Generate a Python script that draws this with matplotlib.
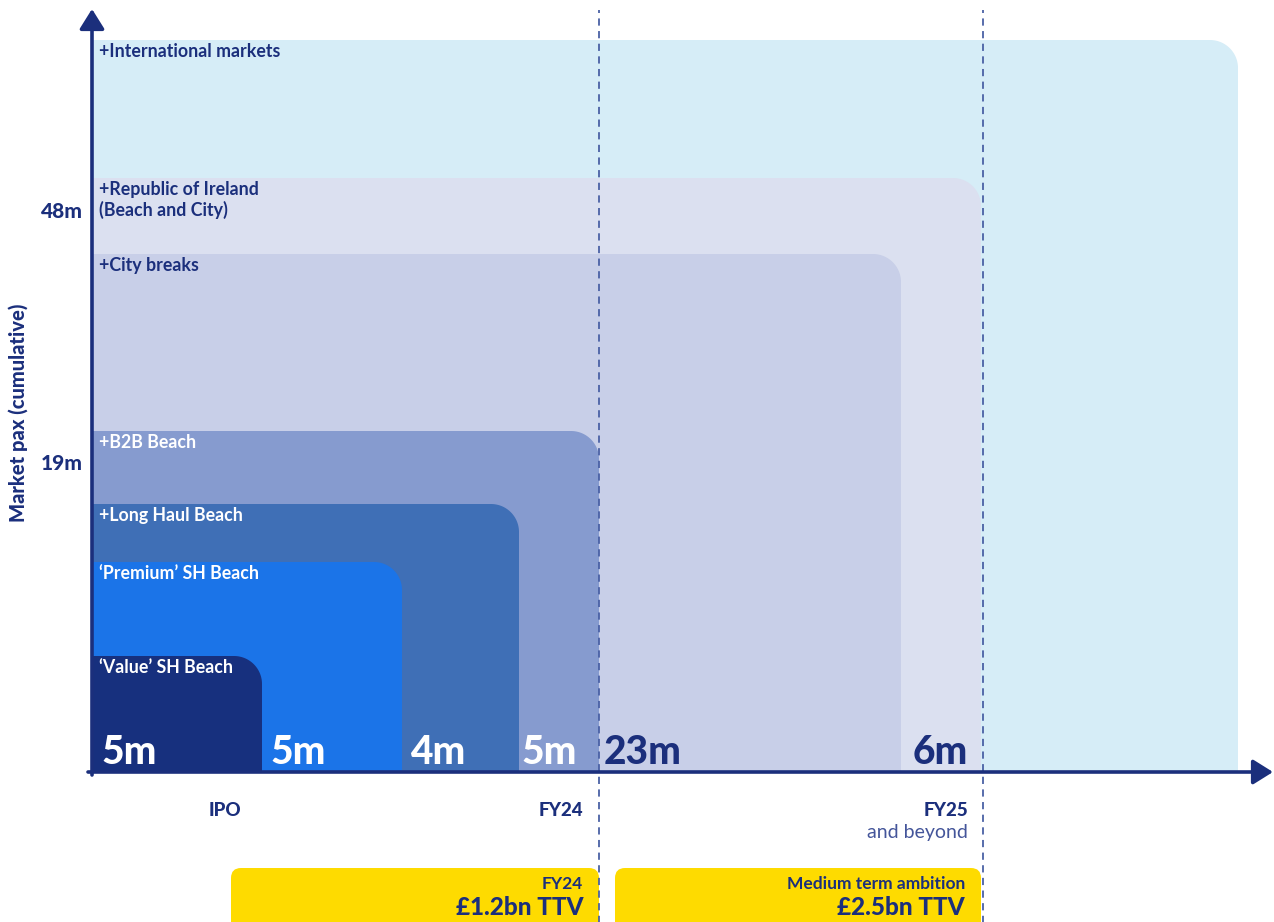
import numpy as np
import matplotlib
matplotlib.use('Agg')
import matplotlib.pyplot as plt
from matplotlib.patches import FancyBboxPatch

plt.rcParams['font.family'] = ['Lato', 'DejaVu Sans']

# market segments, smallest first
segments = ["\u2018Value\u2019 SH Beach", "\u2018Premium\u2019 SH Beach", "+Long Haul Beach",
            "+B2B Beach", "+City breaks", "+Republic of Ireland\n(Beach and City)",
            "+International markets"]
seg_values = ["5m", "5m", "4m", "5m", "23m", "6m"]
# extent of each nested block (chart units)
box_right = [170, 310, 427, 507, 809, 889, 1146]
box_top = [116, 210, 268, 341, 518, 594, 732]
box_colors = ["#17307e", "#1b74e8", "#3f6fb6", "#869bcf", "#c8cfe8", "#dbe0f0", "#d6edf7"]
light_text = [True, True, True, True, False, False, False]

y_ticks = [308, 560]
y_ticklabels = ["19m", "48m"]
milestones = ["IPO", "FY24", "FY25"]
milestone_x = [133, 491, 876]
ttv_titles = ["FY24", "Medium term ambition"]
ttv_values = ["\u00a31.2bn TTV", "\u00a32.5bn TTV"]

navy = "#1b2f7c"
dash_col = "#4a61a5"

fig = plt.figure(figsize=(12.74, 9.22), dpi=100)
ax = fig.add_axes([0, 0, 1, 1])
ax.set_xlim(-92, 1182)
ax.set_ylim(-150, 772)
ax.axis('off')


def corner_box(w, h, color, r=28):
    # block with only the top-right corner rounded
    theta = np.linspace(np.pi / 2, 0, 30)
    xs = np.concatenate([[0, 0], w - r + r * np.cos(theta), [w]])
    ys = np.concatenate([[0, h], h - r + r * np.sin(theta), [0]])
    ax.fill(xs, ys, color=color, lw=0, zorder=1)


# biggest block first so smaller ones sit on top
for i in reversed(range(len(segments))):
    corner_box(box_right[i], box_top[i], box_colors[i])
    ax.text(7, box_top[i] - 3, segments[i], ha='left', va='top',
            fontsize=12.8, fontweight='bold', linespacing=1.2,
            color='white' if light_text[i] else navy, zorder=4)

# increment labels along the bottom
starts = [0] + box_right[:5]
pads = [9, 8, 8, 2, 5]
for i, val in enumerate(seg_values):
    col = 'white' if light_text[i] else navy
    if i == len(seg_values) - 1:
        ax.text(box_right[i] - 13, 8, val, ha='right', va='baseline',
                fontsize=28, fontweight='black', color=col, zorder=4)
    else:
        ax.text(starts[i] + pads[i], 8, val, ha='left', va='baseline',
                fontsize=28, fontweight='black', color=col, zorder=4)

# dashed milestone lines
for xd in [box_right[3], box_right[5] + 2]:
    ax.plot([xd, xd], [-160, 762], color=dash_col, lw=1.3,
            dashes=(4, 3), zorder=5)

# axes arrows
arrow = dict(arrowstyle='-|>,head_length=0.32,head_width=0.2', lw=2.6,
             color=navy, mutation_scale=38, shrinkA=0, shrinkB=0)
ax.annotate('', xy=(0, 763), xytext=(0, -3), arrowprops=arrow, zorder=6)
ax.annotate('', xy=(1181, 0), xytext=(-4, 0), arrowprops=arrow, zorder=6)

for yt, lab in zip(y_ticks, y_ticklabels):
    ax.text(-9, yt, lab, ha='right', va='center', fontsize=15,
            fontweight='black', color=navy)
ax.text(-74, 359, "Market pax (cumulative)", rotation=90, ha='center',
        va='center', fontsize=14.5, fontweight='black', color=navy)

ax.text(milestone_x[0], -38, milestones[0], ha='center', va='center',
        fontsize=13.5, fontweight='black', color=navy)
ax.text(milestone_x[1], -38, milestones[1], ha='right', va='center',
        fontsize=13.5, fontweight='black', color=navy)
ax.text(milestone_x[2], -38, milestones[2], ha='right', va='center',
        fontsize=13.5, fontweight='black', color=navy)
ax.text(milestone_x[2], -60, "and beyond", ha='right', va='center',
        fontsize=14, color="#44559a")

# TTV call-outs
ttv_boxes = [(139, 507), (523, 889)]
for (x0, x1), title, val in zip(ttv_boxes, ttv_titles, ttv_values):
    ax.add_patch(FancyBboxPatch((x0 + 10, -170), x1 - x0 - 20, 64,
                                boxstyle='round,pad=10', fc="#fedb00",
                                ec='none', zorder=2))
    ax.text(x1 - 16, -112, title, ha='right', va='center', fontsize=12.5,
            fontweight='bold', color=navy, zorder=4)
    ax.text(x1 - 16, -135, val, ha='right', va='center', fontsize=17.5,
            fontweight='black', color=navy, zorder=4)

fig.savefig('out.png', dpi=100)
plt.close()
